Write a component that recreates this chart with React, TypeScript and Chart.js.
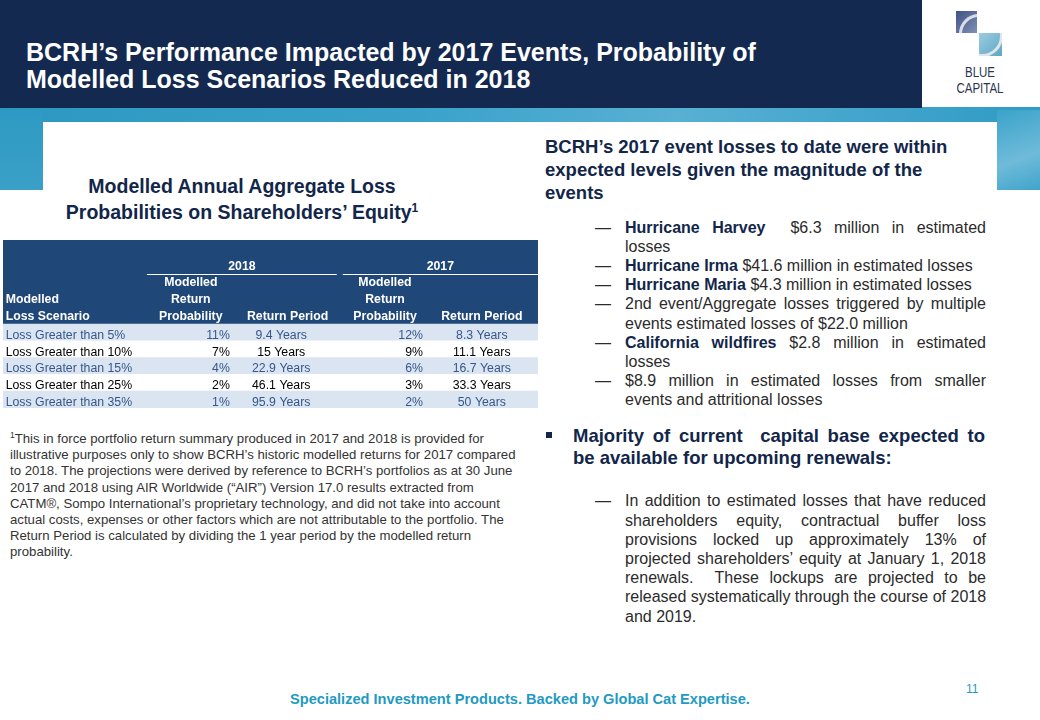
import React, { useEffect, useRef } from 'react';
import { Chart, registerables } from 'chart.js';

Chart.register(...registerables);

// ---------- data ----------
const scenarios = [
  'Loss Greater than 5%',
  'Loss Greater than 10%',
  'Loss Greater than 15%',
  'Loss Greater than 25%',
  'Loss Greater than 35%',
];
const years = ['2018', '2017'];
const prob2018 = [11, 7, 4, 2, 1];
const period2018 = [9.4, 15, 22.9, 46.1, 95.9];
const prob2017 = [12, 9, 6, 3, 2];
const period2017 = [8.3, 11.1, 16.7, 33.3, 50];
const scenarioHeader = ['Modelled', 'Loss Scenario'];
const probHeader = ['Modelled', 'Return', 'Probability'];
const periodHeader = ['Return Period'];

// ---------- styles ----------
const FONT = '"Liberation Sans", Arial, sans-serif';
const NAVY = '#13294f';
const HEAD_BG = '#1f4778';
const ROW_ALT = '#dbe5f1';
const ROW_PLAIN = '#ffffff';
const ROW_ALT_TEXT = '#35578a';
const ROW_PLAIN_TEXT = '#000000';
const HEADING = '#12264a';
const BODY = '#2b2b2b';
const TEAL = '#1f9ac2';
const TFS = 12.3;
const HEADER_SLOTS = 5;

// column anchors on the 0..100 x scale
const COL = {
  scenario: 0.5,
  prob18Head: 35.1,
  prob18: 42.4,
  per18Head: 53.2,
  per18: 52.0,
  prob17Head: 71.4,
  prob17: 78.5,
  per17: 89.5,
};
const YEAR_SPANS = [
  [26.9, 62.4],
  [63.5, 100],
];

function TableChart() {
  const ref = useRef<HTMLCanvasElement>(null);
  useEffect(() => {
    if (!ref.current) return;
    const rowLabels = [
      ...Array.from({ length: HEADER_SLOTS }, (_, i) => `header-${i}`),
      ...scenarios,
    ];
    const ranges = rowLabels.map(() => [0, 100]);
    const colors = rowLabels.map((_, i) =>
      i < HEADER_SLOTS ? HEAD_BG : (i - HEADER_SLOTS) % 2 === 0 ? ROW_ALT : ROW_PLAIN
    );

    const textPlugin = {
      id: 'tableText',
      afterDatasetsDraw(chart: any) {
        const { ctx } = chart;
        const x = chart.scales.x;
        const y = chart.scales.y;
        const slot = Math.abs(y.getPixelForValue(1) - y.getPixelForValue(0));
        const px = (v: number) => x.getPixelForValue(v);
        const py = (i: number) => y.getPixelForValue(i);
        ctx.save();
        ctx.textBaseline = 'middle';

        // header
        ctx.fillStyle = '#ffffff';
        ctx.strokeStyle = '#ffffff';
        ctx.font = `bold ${TFS}px ${FONT}`;
        const hy = (i: number) => py(i) + 1;
        years.forEach((yr, k) => {
          const [a, b] = YEAR_SPANS[k];
          ctx.textAlign = 'center';
          ctx.fillText(yr, px((a + b) / 2), hy(1));
          const ly = Math.round(py(1) + slot / 2) + 0.5;
          ctx.lineWidth = 1;
          ctx.beginPath();
          ctx.moveTo(px(a), ly);
          ctx.lineTo(px(b), ly);
          ctx.stroke();
        });
        const drawHeader = (lines: string[], xv: number, align: CanvasTextAlign) => {
          ctx.textAlign = align;
          lines.forEach((t, j) => {
            const slotIndex = HEADER_SLOTS - lines.length + j;
            ctx.fillText(t, px(xv), hy(slotIndex));
          });
        };
        drawHeader(scenarioHeader, COL.scenario, 'left');
        drawHeader(probHeader, COL.prob18Head, 'center');
        drawHeader(periodHeader, COL.per18Head, 'center');
        drawHeader(probHeader, COL.prob17Head, 'center');
        drawHeader(periodHeader, COL.per17, 'center');

        // body rows
        ctx.font = `${TFS}px ${FONT}`;
        scenarios.forEach((s, r) => {
          const i = HEADER_SLOTS + r;
          const yy = py(i) + 3;
          ctx.fillStyle = r % 2 === 0 ? ROW_ALT_TEXT : ROW_PLAIN_TEXT;
          ctx.textAlign = 'left';
          ctx.fillText(s, px(COL.scenario), yy);
          ctx.textAlign = 'right';
          ctx.fillText(`${prob2018[r]}%`, px(COL.prob18), yy);
          ctx.fillText(`${prob2017[r]}%`, px(COL.prob17), yy);
          ctx.textAlign = 'center';
          ctx.fillText(`${period2018[r]} Years`, px(COL.per18), yy);
          ctx.fillText(`${period2017[r]} Years`, px(COL.per17), yy);
        });
        ctx.restore();
      },
    };

    const chart = new Chart(ref.current, {
      type: 'bar',
      data: {
        labels: rowLabels,
        datasets: [
          {
            data: ranges as any,
            backgroundColor: colors,
            borderWidth: 0,
            barPercentage: 1,
            categoryPercentage: 1,
            borderSkipped: false,
          },
        ],
      },
      options: {
        indexAxis: 'y',
        animation: false,
        responsive: false,
        devicePixelRatio: 1,
        events: [],
        layout: { padding: 0 },
        plugins: { legend: { display: false }, tooltip: { enabled: false } },
        scales: {
          x: { type: 'linear', min: 0, max: 100, display: false },
          y: { type: 'category', display: false, offset: true },
        },
      },
      plugins: [textPlugin],
    });
    return () => chart.destroy();
  }, []);
  return (
    <canvas
      ref={ref}
      width={535}
      height={168}
      style={{ position: 'absolute', left: 3, top: 240, width: 535, height: 168 }}
    />
  );
}

type Seg = string | { b: string };
const renderSegs = (segs: Seg[]) =>
  segs.map((s, i) =>
    typeof s === 'string' ? (
      <span key={i}>{s}</span>
    ) : (
      <b key={i} style={{ color: HEADING }}>
        {s.b}
      </b>
    )
  );

function JLines({
  lines,
  left,
  top,
  width,
  lh,
  fs,
  color,
  bold,
  dashes,
}: {
  lines: { segs: Seg[]; j: boolean; dash?: boolean }[];
  left: number;
  top: number;
  width: number;
  lh: number;
  fs: number;
  color: string;
  bold?: boolean;
  dashes?: boolean;
}) {
  return (
    <div style={{ position: 'absolute', left, top, width, fontSize: fs, lineHeight: `${lh}px`, color, fontWeight: bold ? 700 : 400 }}>
      {lines.map((l, i) => (
        <div
          key={i}
          style={{
            position: 'relative',
            whiteSpace: 'nowrap',
            textAlign: l.j ? 'justify' : 'left',
            textAlignLast: l.j ? 'justify' : 'left',
            height: lh,
          }}
        >
          {dashes && l.dash ? (
            <span style={{ position: 'absolute', left: -30, top: 0, color: BODY }}>—</span>
          ) : null}
          {renderSegs(l.segs)}
        </div>
      ))}
    </div>
  );
}

const bullet1 = [
  { segs: [{ b: 'Hurricane Harvey' }, ' \u00a0$6.3 million in estimated'], j: true, dash: true },
  { segs: ['losses'], j: false },
  { segs: [{ b: 'Hurricane Irma' }, ' $41.6 million in estimated losses'], j: false, dash: true },
  { segs: [{ b: 'Hurricane Maria' }, ' $4.3 million in estimated losses'], j: false, dash: true },
  { segs: ['2nd event/Aggregate losses triggered by multiple'], j: true, dash: true },
  { segs: ['events estimated losses of $22.0 million'], j: false },
  { segs: [{ b: 'California wildfires' }, ' $2.8 million in estimated'], j: true, dash: true },
  { segs: ['losses'], j: false },
  { segs: ['$8.9 million in estimated losses from smaller'], j: true, dash: true },
  { segs: ['events and attritional losses'], j: false },
];

const bullet2 = [
  { segs: ['In addition to estimated losses that have reduced'], j: true, dash: true },
  { segs: ['shareholders equity, contractual buffer loss'], j: true },
  { segs: ['provisions locked up approximately 13% of'], j: true },
  { segs: ['projected shareholders\u2019 equity at January 1, 2018'], j: true },
  { segs: ['renewals. \u00a0These lockups are projected to be'], j: true },
  { segs: ['released systematically through the course of 2018'], j: true },
  { segs: ['and 2019.'], j: false },
];

const heading2 = [
  { segs: ['Majority of current \u00a0capital base expected to'], j: true },
  { segs: ['be available for upcoming renewals:'], j: false },
];

const footnoteLines = [
  'This in force portfolio return summary produced in 2017 and 2018 is provided for',
  'illustrative purposes only to show BCRH\u2019s historic modelled returns for 2017 compared',
  'to 2018. The projections were derived by reference to BCRH\u2019s portfolios as at 30 June',
  '2017 and 2018 using AIR Worldwide (\u201cAIR\u201d) Version 17.0 results extracted from',
  'CATM\u00ae, Sompo International\u2019s proprietary technology, and did not take into account',
  'actual costs, expenses or other factors which are not attributable to the portfolio. The',
  'Return Period is calculated by dividing the 1 year period by the modelled return',
  'probability.',
];

export default function App() {
  return (
    <div
      style={{
        position: 'absolute',
        left: 0,
        top: 0,
        width: 1040,
        height: 720,
        overflow: 'hidden',
        background: '#ffffff',
        fontFamily: FONT,
      }}
    >
      {/* light blue band */}
      <div style={{ position: 'absolute', left: 0, top: 100, width: 1040, height: 22, background: 'linear-gradient(90deg,#2c98c2 0%,#3aa2c9 40%,#58b0d3 65%,#2f9bc4 100%)' }} />
      <div style={{ position: 'absolute', left: 0, top: 110, width: 43, height: 80, background: 'linear-gradient(180deg,#2e9ac3,#3ba0c7)' }} />
      <div style={{ position: 'absolute', left: 997, top: 110, width: 43, height: 80, background: 'linear-gradient(160deg,#3aa3ca,#6fbbd9 60%,#3fa4cb)' }} />
      {/* navy header */}
      <div style={{ position: 'absolute', left: 0, top: 0, width: 922, height: 108, background: NAVY }} />
      <div style={{ position: 'absolute', left: 922, top: 0, width: 118, height: 107, background: '#ffffff' }} />
      <div
        style={{
          position: 'absolute',
          left: 26,
          top: 38.5,
          color: '#ffffff',
          fontWeight: 700,
          fontSize: 25,
          lineHeight: '27px',
          whiteSpace: 'nowrap',
        }}
      >
        <div>BCRH&#8217;s Performance Impacted by 2017 Events, Probability of</div>
        <div>Modelled Loss Scenarios Reduced in 2018</div>
      </div>

      {/* logo */}
      <div style={{ position: 'absolute', left: 956, top: 11, width: 21, height: 22, background: 'linear-gradient(135deg,#3f5283,#7f91b6)', overflow: 'hidden' }}>
        <div style={{ position: 'absolute', left: 3, top: 3, width: 34, height: 34, borderRadius: '50%', borderLeft: '3px solid #d9dde6', borderTop: '3px solid #d9dde6', borderRight: '3px solid transparent', borderBottom: '3px solid transparent' }} />
      </div>
      <div style={{ position: 'absolute', left: 979, top: 33, width: 23, height: 23, background: 'linear-gradient(135deg,#9ccbe0,#5ea7c6)', overflow: 'hidden' }}>
        <div style={{ position: 'absolute', left: -18, top: -18, width: 36, height: 36, borderRadius: '50%', borderRight: '3px solid #dfe6ea', borderBottom: '3px solid #dfe6ea', borderLeft: '3px solid transparent', borderTop: '3px solid transparent' }} />
      </div>
      <div style={{ position: 'absolute', left: 940, top: 64, width: 80, textAlign: 'center', color: '#2a3452', fontSize: 14, lineHeight: '16px', transform: 'scaleX(0.82)' }}>
        <div>BLUE</div>
        <div>CAPITAL</div>
      </div>

      {/* left subtitle */}
      <div style={{ position: 'absolute', left: 0, top: 173, width: 484, textAlign: 'center', color: HEADING, fontWeight: 700, fontSize: 19.5, lineHeight: '26px' }}>
        <div>Modelled Annual Aggregate Loss</div>
        <div>
          Probabilities on Shareholders&#8217; Equity<sup style={{ fontSize: 12, lineHeight: 0 }}>1</sup>
        </div>
      </div>

      <TableChart />

      {/* footnote */}
      <div style={{ position: 'absolute', left: 10, top: 431, color: '#333333', fontSize: 13.2, lineHeight: '16.2px', whiteSpace: 'nowrap' }}>
        {footnoteLines.map((l, i) => (
          <div key={i}>
            {i === 0 ? <sup style={{ fontSize: 8.5, lineHeight: 0 }}>1</sup> : null}
            {l}
          </div>
        ))}
      </div>

      {/* right column */}
      <div style={{ position: 'absolute', left: 545, top: 135, color: HEADING, fontWeight: 700, fontSize: 18.5, lineHeight: '23px', whiteSpace: 'nowrap' }}>
        <div>BCRH&#8217;s 2017 event losses to date were within</div>
        <div>expected levels given the magnitude of the</div>
        <div>events</div>
      </div>
      <JLines lines={bullet1} left={625} top={217.7} width={361} lh={19.2} fs={16} color={BODY} dashes />
      <div style={{ position: 'absolute', left: 546, top: 432, width: 6, height: 6, background: HEADING }} />
      <JLines lines={heading2} left={573} top={424.7} width={412} lh={22} fs={18.5} color={HEADING} bold />
      <JLines lines={bullet2} left={625} top={491.4} width={361} lh={19.2} fs={16} color={BODY} dashes />

      {/* footer */}
      <div style={{ position: 'absolute', left: 290, top: 690, color: TEAL, fontWeight: 700, fontSize: 14.6, lineHeight: '18px', whiteSpace: 'nowrap' }}>
        Specialized Investment Products. Backed by Global Cat Expertise.
      </div>
      <div style={{ position: 'absolute', left: 966, top: 682, color: TEAL, fontSize: 12, lineHeight: '14px' }}>11</div>
    </div>
  );
}
